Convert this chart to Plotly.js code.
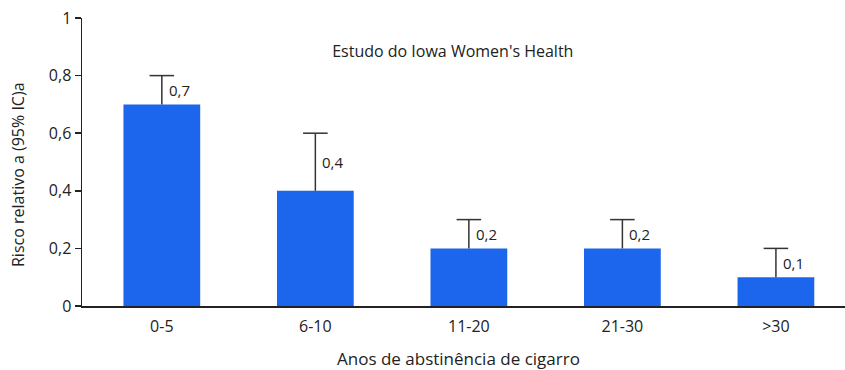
<!DOCTYPE html>
<html>
<head>
<meta charset="utf-8">
<script src="https://cdn.plot.ly/plotly-3.0.1.min.js"></script>
<style>html,body{margin:0;padding:0;background:#fff;}#chart{width:845px;height:370px;}</style>
</head>
<body>
<div id="chart"></div>
<script>
const categories = ['0-5', '6-10', '11-20', '21-30', '>30'];
const riskValues = [0.7, 0.4, 0.2, 0.2, 0.1];
const upperCI = [0.8, 0.6, 0.3, 0.3, 0.2];
const valueLabels = ['0,7', '0,4', '0,2', '0,2', '0,1'];
const yTickVals = [0, 0.2, 0.4, 0.6, 0.8, 1];
const yTickText = ['0', '0,2', '0,4', '0,6', '0,8', '1'];

const FONT = '"Open Sans", Arial, sans-serif';
const TXT = '#222';
const CAP_HALF = 0.08; // half width of whisker cap in category units

const trace = {
  type: 'bar',
  x: categories,
  y: riskValues,
  marker: {color: '#1b66ec'},
  hoverinfo: 'none'
};

// upper-only whiskers built from the data arrays
const shapes = [];
categories.forEach((c, i) => {
  shapes.push({type: 'line', xref: 'x', yref: 'y', x0: i, x1: i, y0: riskValues[i], y1: upperCI[i],
    line: {color: '#333', width: 1.5}});
  shapes.push({type: 'line', xref: 'x', yref: 'y', x0: i - CAP_HALF, x1: i + CAP_HALF, y0: upperCI[i], y1: upperCI[i],
    line: {color: '#333', width: 1.5}});
});

const annotations = categories.map((c, i) => ({
  x: c, y: (riskValues[i] + upperCI[i]) / 2,
  xref: 'x', yref: 'y',
  text: valueLabels[i], showarrow: false,
  xanchor: 'left', yanchor: 'middle', xshift: 5,
  font: {family: FONT, size: 15, color: TXT}
}));
annotations.push({
  text: 'Anos de abstinência de cigarro',
  xref: 'paper', yref: 'paper', x: 0.493, y: -0.135,
  xanchor: 'center', yanchor: 'top', showarrow: false,
  font: {family: FONT, size: 17, color: TXT}
});
annotations.push({
  text: 'Risco relativo a (95% IC)a',
  xref: 'paper', yref: 'paper', x: -0.084, y: 0.458,
  xanchor: 'center', yanchor: 'middle', textangle: -90, showarrow: false,
  font: {family: FONT, size: 16, color: TXT}
});

const layout = {
  width: 845, height: 370,
  margin: {l: 82, r: 0, t: 18, b: 64},
  paper_bgcolor: '#fff', plot_bgcolor: '#fff',
  showlegend: false,
  bargap: 0.5,
  title: {
    text: 'Estudo do Iowa Women\'s Health',
    xref: 'paper', x: 0.486, yref: 'container', y: 0.86,
    xanchor: 'center', yanchor: 'middle',
    font: {family: FONT, size: 16, color: TXT}
  },
  xaxis: {
    range: [-0.52, 4.45],
    showline: true, linecolor: '#222', linewidth: 2,
    ticks: '', showgrid: false, zeroline: false,
    ticklabelstandoff: 5,
    tickfont: {family: FONT, size: 16, color: TXT},
    fixedrange: true
  },
  yaxis: {
    range: [0, 1],
    showline: true, linecolor: '#222', linewidth: 1.5,
    ticks: 'outside', ticklen: 6, tickcolor: '#222', tickwidth: 1.5,
    tickvals: yTickVals, ticktext: yTickText,
    showgrid: false, zeroline: false,
    tickfont: {family: FONT, size: 16, color: TXT},
    fixedrange: true
  },
  shapes: shapes,
  annotations: annotations
};

Plotly.newPlot('chart', [trace], layout, {displayModeBar: false, staticPlot: true});
</script>
</body>
</html>
